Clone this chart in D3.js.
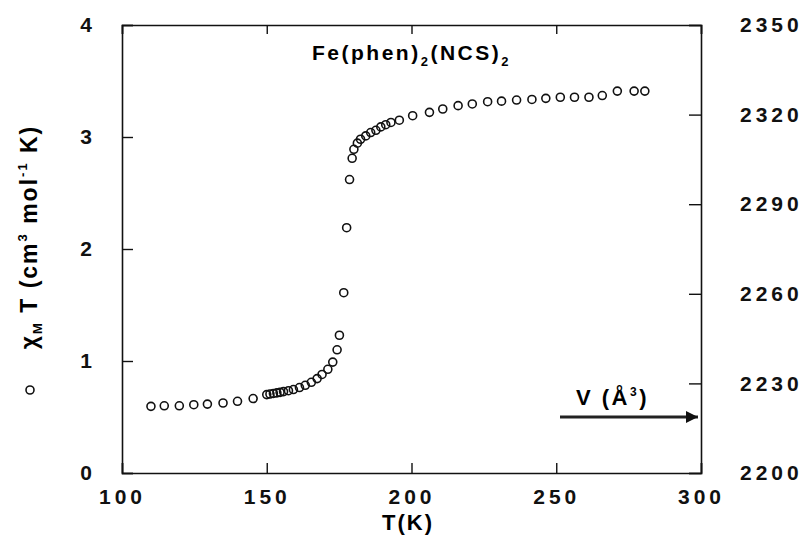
<!DOCTYPE html>
<html>
<head>
<meta charset="utf-8">
<script src="https://cdn.jsdelivr.net/npm/d3@7"></script>
<style>
  body { margin: 0; background: #fff; }
  svg { font-family: "Liberation Sans", Arial, sans-serif; }
  .tick text { font-weight: bold; fill: #111; }
</style>
</head>
<body>
<div class="chart"></div>
<script>
// Data
var temperature = [110.0, 114.6, 119.8, 124.8, 129.5, 134.9, 139.9, 145.3, 150.0, 151.1,
    152.3, 153.5, 154.6, 155.8, 157.5, 159.2, 161.3, 163.3, 165.4, 167.4,
    169.1, 171.1, 172.8, 174.3, 175.1, 176.6, 177.6, 178.6, 179.5, 180.1,
    181.3, 182.4, 184.2, 185.9, 187.7, 189.4, 191.1, 192.9, 195.8, 200.4,
    206.2, 210.8, 216.1, 221.0, 226.3, 231.1, 236.3, 241.6, 246.4, 251.4,
    256.3, 261.3, 265.9, 271.1, 276.9, 280.6];
var chiT = [0.595, 0.60, 0.60, 0.61, 0.615, 0.625, 0.64, 0.665, 0.70, 0.705,
    0.71, 0.715, 0.72, 0.727, 0.735, 0.745, 0.763, 0.783, 0.81, 0.843,
    0.88, 0.926, 0.99, 1.10, 1.23, 1.61, 2.19, 2.62, 2.81, 2.89,
    2.945, 2.98, 3.01, 3.04, 3.06, 3.09, 3.11, 3.13, 3.15, 3.19,
    3.22, 3.25, 3.28, 3.295, 3.315, 3.32, 3.33, 3.335, 3.345, 3.355,
    3.355, 3.355, 3.37, 3.41, 3.41, 3.41];

var xTicks = [100, 150, 200, 250, 300];
var yTicks = [0, 1, 2, 3, 4];
var vTicks = [2200, 2230, 2260, 2290, 2320, 2350];

var w = 809;
var h = 539;
var padLeft = 122, padRight = 701, padTop = 25, padBottom = 473;

var svg = d3.select(".chart")
    .append("svg")
    .attr("width", w)
    .attr("height", h);

//Scales
var xScale = d3.scaleLinear().domain([100, 300]).range([padLeft, padRight]);
var yScale = d3.scaleLinear().domain([0, 4]).range([padBottom, padTop]);
var vScale = d3.scaleLinear().domain([2200, 2350]).range([padBottom, padTop]);

//Axes, ticks pointing inward
var xAxis = d3.axisBottom(xScale).tickValues(xTicks).tickSize(-10).tickPadding(16).tickFormat(d3.format("d"));
var xTop = d3.axisTop(xScale).tickValues(xTicks).tickSize(-9).tickFormat("");
var yAxis = d3.axisLeft(yScale).tickValues(yTicks).tickSize(-11).tickPadding(30).tickFormat(d3.format("d"));
var vAxis = d3.axisRight(vScale).tickValues(vTicks).tickSize(-12).tickPadding(39).tickFormat(d3.format("d"));

function style(g, size, spacing) {
    g.select(".domain").attr("stroke", "#111").attr("stroke-width", 1.6);
    g.selectAll(".tick line").attr("stroke", "#111").attr("stroke-width", 1.4);
    g.selectAll(".tick text").style("font-size", size + "px").style("letter-spacing", spacing + "px");
}

svg.append("g")
    .attr("transform", "translate(0," + padBottom + ")")
    .call(xAxis)
    .call(style, 21, 4);
svg.append("g")
    .attr("transform", "translate(0," + padTop + ")")
    .call(xTop)
    .call(style, 21, 4);
svg.append("g")
    .attr("transform", "translate(" + padLeft + ",0)")
    .call(yAxis)
    .call(style, 21, 0);
svg.append("g")
    .attr("transform", "translate(" + padRight + ",0)")
    .call(vAxis)
    .call(style, 21, 4);

//Axis titles
svg.append("text")
    .attr("x", 408)
    .attr("y", 530)
    .attr("text-anchor", "middle")
    .style("font-size", "22px")
    .style("font-weight", "bold")
    .style("letter-spacing", "2px")
    .text("T(K)");

var yTitle = svg.append("g")
    .attr("transform", "translate(37, 266) rotate(-90)");
yTitle.append("circle")
    .attr("cx", -124)
    .attr("cy", -7)
    .attr("r", 4)
    .attr("fill", "none")
    .attr("stroke", "#111")
    .attr("stroke-width", 1.6);
var yt = yTitle.append("text")
    .attr("x", 29)
    .attr("text-anchor", "middle")
    .style("font-size", "23px")
    .style("letter-spacing", "2px")
    .style("font-weight", "bold");
yt.append("tspan").text("χ");
yt.append("tspan").attr("dy", 5).style("font-size", "13px").text("M");
yt.append("tspan").attr("dy", -5).text(" T (cm");
yt.append("tspan").attr("dy", -10).style("font-size", "13px").text("3");
yt.append("tspan").attr("dy", 10).text(" mol");
yt.append("tspan").attr("dy", -10).style("font-size", "13px").text("-1");
yt.append("tspan").attr("dy", 10).text(" K)");

//Compound label
var title = svg.append("text")
    .attr("x", 312)
    .attr("y", 60)
    .style("font-size", "21px")
    .style("font-weight", "bold")
    .style("letter-spacing", "2.5px");
title.append("tspan").text("Fe(phen)");
title.append("tspan").attr("dy", 6).style("font-size", "13px").text("2");
title.append("tspan").attr("dy", -6).text("(NCS)");
title.append("tspan").attr("dy", 6).style("font-size", "13px").text("2");

//Volume axis label with arrow
var vLabel = svg.append("text")
    .attr("x", 576)
    .attr("y", 405)
    .style("font-size", "22px")
    .style("letter-spacing", "2.5px")
    .style("font-weight", "bold");
vLabel.append("tspan").text("V (Å");
vLabel.append("tspan").attr("dy", -9).style("font-size", "12px").text("3");
vLabel.append("tspan").attr("dy", 9).text(")");

svg.append("defs").append("marker")
    .attr("id", "arrow")
    .attr("viewBox", "0 0 10 10")
    .attr("refX", 10)
    .attr("refY", 5)
    .attr("markerWidth", 5)
    .attr("markerHeight", 4)
    .attr("markerUnits", "strokeWidth")
    .attr("orient", "auto")
    .append("path")
    .attr("d", "M0,0L10,5L0,10z")
    .attr("fill", "#111");

svg.append("line")
    .attr("x1", 560)
    .attr("x2", padRight - 3)
    .attr("y1", 417)
    .attr("y2", 417)
    .attr("stroke", "#222")
    .attr("stroke-width", 3)
    .attr("marker-end", "url(#arrow)");

//Data points
svg.selectAll(".dot")
    .data(temperature)
    .enter()
    .append("circle")
    .attr("class", "dot")
    .attr("cx", d => xScale(d))
    .attr("cy", (d, i) => yScale(chiT[i]))
    .attr("r", 4)
    .attr("fill", "none")
    .attr("stroke", "#111")
    .attr("stroke-width", 1.6);
</script>
</body>
</html>
